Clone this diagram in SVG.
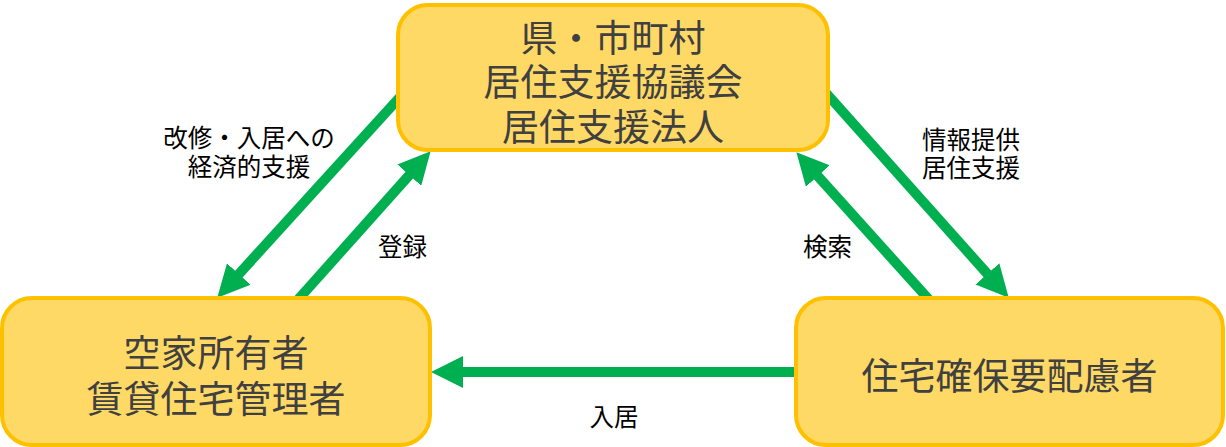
<svg xmlns="http://www.w3.org/2000/svg" width="1226" height="447" viewBox="0 0 1226 447">
<style>
.box{fill:#FFD966;stroke:#FFC000;stroke-width:4}
.nt{font-family:"Noto Sans CJK JP","Noto Sans",sans-serif;font-size:37px;fill:#404040;text-anchor:middle}
.lb{font-family:"Noto Sans CJK JP","Noto Sans",sans-serif;font-size:24.5px;fill:#000000;text-anchor:middle}
.ar{stroke:#00B050;stroke-width:10;fill:none;marker-end:url(#ah)}
</style>
<defs>
<marker id="ah" markerUnits="userSpaceOnUse" viewBox="0 0 32 32" markerWidth="32" markerHeight="32" refX="3" refY="16" orient="auto">
<path d="M0,0 L32,16 L0,32 z" fill="#00B050"/>
</marker>
</defs>
<rect width="1226" height="447" fill="#FFFFFF"/>
<g id="connectors">
<line class="ar" x1="400" y1="97" x2="236.8" y2="276.3"/>
<line class="ar" x1="295" y1="303" x2="411.3" y2="172.9"/>
<line class="ar" x1="826" y1="93" x2="989.4" y2="276.1"/>
<line class="ar" x1="932" y1="303" x2="815.8" y2="173.8"/>
<line class="ar" x1="800" y1="372" x2="460" y2="372"/>
</g>
<g id="node-top">
<rect class="box" x="398" y="5" width="430" height="145" rx="30"/>
<text class="nt"><tspan x="613" y="52">県・市町村</tspan><tspan x="613" y="96">居住支援協議会</tspan><tspan x="613" y="141">居住支援法人</tspan></text>
</g>
<g id="node-left">
<rect class="box" x="2" y="298" width="428" height="147" rx="30"/>
<text class="nt"><tspan x="216" y="367">空家所有者</tspan><tspan x="216" y="413">賃貸住宅管理者</tspan></text>
</g>
<g id="node-right">
<rect class="box" x="796" y="298" width="427" height="147" rx="30"/>
<text class="nt" x="1009.5" y="390">住宅確保要配慮者</text>
</g>
<g id="labels">
<text class="lb"><tspan x="249" y="147">改修・入居への</tspan><tspan x="249" y="176">経済的支援</tspan></text>
<text class="lb" x="402.5" y="256">登録</text>
<text class="lb" x="827.5" y="256">検索</text>
<text class="lb"><tspan x="971" y="149">情報提供</tspan><tspan x="971" y="177">居住支援</tspan></text>
<text class="lb" x="614" y="426">入居</text>
</g>
</svg>
